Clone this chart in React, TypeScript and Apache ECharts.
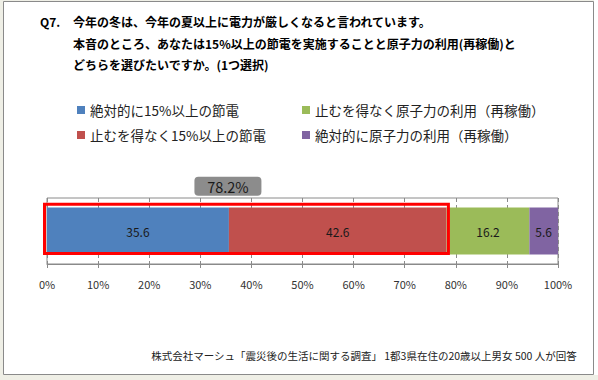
import React, { useEffect, useRef } from "react";
import * as echarts from "echarts";

const categories = ["Q7"];
const seriesNames = [
  "絶対的に15%以上の節電",
  "止むを得なく15%以上の節電",
  "止むを得なく原子力の利用（再稼働）",
  "絶対的に原子力の利用（再稼働）",
];
const absolute15 = [35.6];
const unavoidable15 = [42.6];
const unavoidableNuclear = [16.2];
const absoluteNuclear = [5.6];
const seriesColors = ["#4F81BD", "#C0504D", "#9BBB59", "#8064A2"];
const titleQ = "Q7.";
const titleLines = [
  "今年の冬は、今年の夏以上に電力が厳しくなると言われています。",
  "本音のところ、あなたは15%以上の節電を実施することと原子力の利用(再稼働)と",
  "どちらを選びたいですか。(1つ選択)",
];
const sourceText = "株式会社マーシュ「震災後の生活に関する調査」 1都3県在住の20歳以上男女 500 人が回答";
const xMin = 0;
const xMax = 100;
const xInterval = 10;

const FONT = "'Noto Sans CJK JP', 'Noto Sans', sans-serif";

export default function App() {
  const ref = useRef<HTMLDivElement>(null);
  useEffect(() => {
    if (!ref.current) return;
    const chart = echarts.init(ref.current, undefined, { renderer: "svg" });
    const allValues = [absolute15, unavoidable15, unavoidableNuclear, absoluteNuclear];
    const total = absolute15[0] + unavoidable15[0];
    const barW = 47;
    const option: any = {
      animation: false,
      backgroundColor: "#efefe6",
      textStyle: { fontFamily: FONT },
      graphic: [
        { type: "rect", z: -10, shape: { x: 594, y: 0, width: 4, height: 375 }, style: { fill: "#ffffff" } },
        { type: "rect", z: -9, shape: { x: 3.5, y: 1.5, width: 590, height: 373 }, style: { fill: "#ffffff", stroke: "#8a8a8a", lineWidth: 1 } },
      ],
      title: [
        { text: titleQ, left: 40, top: 11, padding: 0, textStyle: { fontSize: 12, fontWeight: "bold", color: "#000", lineHeight: 21.5, fontFamily: FONT } },
        { text: titleLines.join("\n"), left: 73, top: 11, padding: 0, textStyle: { fontSize: 12, fontWeight: "bold", color: "#000", lineHeight: 21.5, fontFamily: FONT } },
        { text: sourceText, right: 21, top: 348, padding: 0, textStyle: { fontSize: 10.5, fontWeight: "normal", color: "#222", lineHeight: 14, fontFamily: FONT } },
      ],
      legend: [
        {
          left: 77, top: 103, padding: 0, orient: "vertical", itemGap: 11, itemWidth: 8, itemHeight: 8, icon: "rect",
          data: [seriesNames[0], seriesNames[1]],
          textStyle: { fontSize: 13.5, color: "#222", lineHeight: 14, fontFamily: FONT },
        },
        {
          left: 302, top: 103, padding: 0, orient: "vertical", itemGap: 11, itemWidth: 8, itemHeight: 8, icon: "rect",
          data: [seriesNames[2], seriesNames[3]],
          textStyle: { fontSize: 13.5, color: "#222", lineHeight: 14, fontFamily: FONT },
        },
      ],
      grid: { left: 47, right: 40, top: 198, bottom: 116, show: true, borderColor: "#8a8a8a", borderWidth: 1, containLabel: false },
      xAxis: {
        type: "value", min: xMin, max: xMax, interval: xInterval,
        axisLine: { show: true, lineStyle: { color: "#8a8a8a" } },
        axisTick: { show: true, length: 4, lineStyle: { color: "#8a8a8a" } },
        splitLine: { show: true, lineStyle: { color: "#8a8a8a", type: [4, 3], width: 1 } },
        axisLabel: { formatter: "{value}%", fontSize: 11, color: "#333", margin: 14, fontFamily: FONT },
      },
      yAxis: { type: "category", data: categories, show: false },
      series: [
        ...allValues.map((vals, i) => ({
          name: seriesNames[i],
          type: "bar",
          stack: "total",
          barWidth: barW,
          data: vals,
          itemStyle: { color: seriesColors[i] },
          label: { show: true, position: "inside", color: "#1a1a1a", fontSize: 12, fontFamily: FONT, formatter: (p: any) => p.value.toFixed(1) },
        })),
        {
          type: "custom",
          name: "highlight",
          z: 10,
          clip: false,
          silent: true,
          encode: { x: 0, y: 1 },
          data: [[total, 0, absolute15[0]]],
          renderItem: (params: any, api: any) => {
            const t = api.value(0);
            const cat = api.value(1);
            const anchor = api.value(2);
            const s = api.coord([0, cat]);
            const e = api.coord([t, cat]);
            const a = api.coord([anchor, cat]);
            const top = s[1] - barW / 2;
            return {
              type: "group",
              children: [
                {
                  type: "rect",
                  shape: { x: s[0] - 2.5, y: top - 3.3, width: e[0] - s[0] + 4.3, height: barW + 2.4 },
                  style: { fill: "none", stroke: "#ff0000", lineWidth: 3 },
                },
                {
                  type: "rect",
                  shape: { x: a[0] - 34.5, y: top - 30.7, width: 67, height: 19, r: 4 },
                  style: { fill: "#8c8c8c" },
                },
                {
                  type: "text",
                  style: {
                    text: t.toFixed(1) + "%",
                    x: a[0] - 1,
                    y: top - 21.2,
                    align: "center",
                    verticalAlign: "middle",
                    fontSize: 14.5,
                    fontFamily: FONT,
                    fill: "#1a1a1a",
                  },
                },
              ],
            };
          },
        },
      ],
    };
    chart.setOption(option);
    return () => chart.dispose();
  }, []);
  return <div ref={ref} style={{ position: "fixed", left: 0, top: 0, width: 598, height: 380 }} />;
}
